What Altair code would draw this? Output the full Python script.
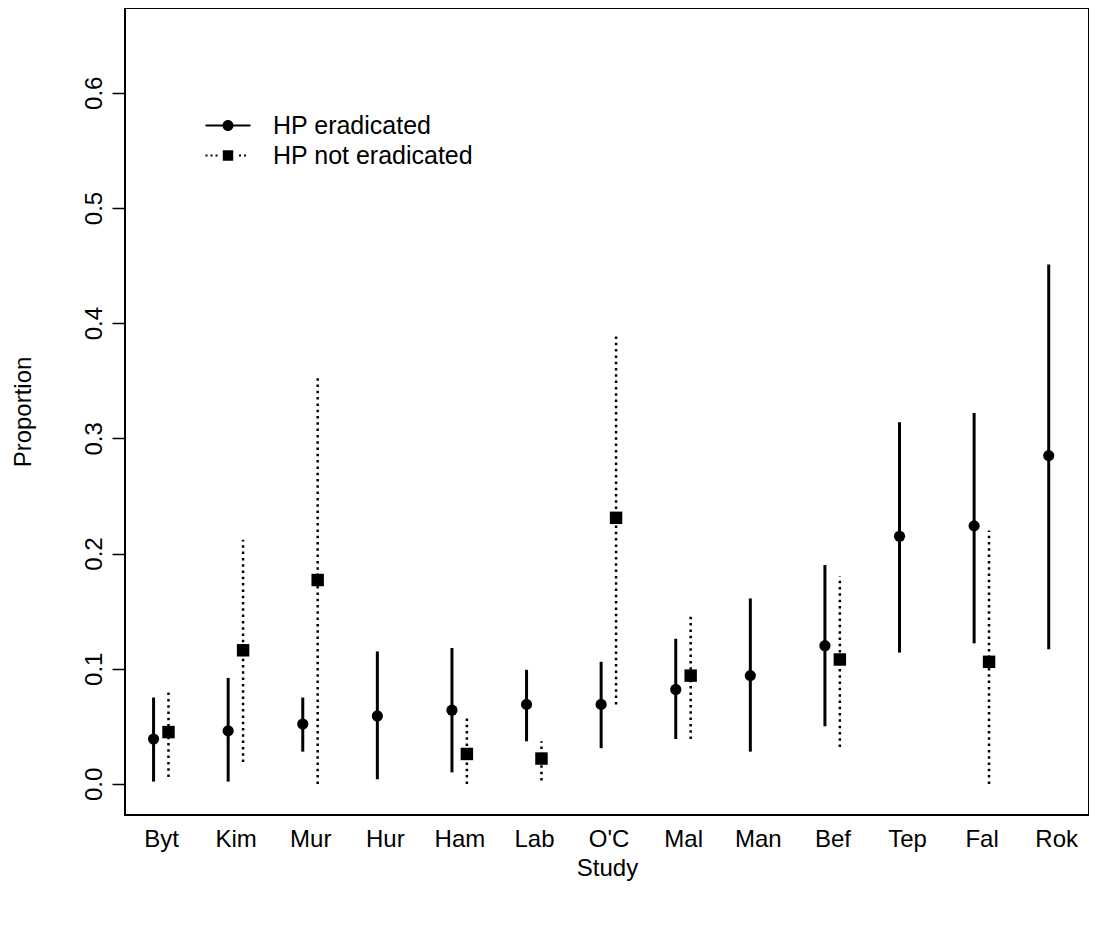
import json
import altair as alt
import pandas as pd

studies = ["Byt", "Kim", "Mur", "Hur", "Ham", "Lab", "O'C", "Mal", "Man", "Bef", "Tep", "Fal", "Rok"]

erad_est = [0.039, 0.046, 0.052, 0.059, 0.064, 0.069, 0.069, 0.082, 0.094, 0.120, 0.215, 0.224, 0.285]
erad_lo = [0.002, 0.002, 0.028, 0.004, 0.010, 0.037, 0.031, 0.039, 0.028, 0.050, 0.114, 0.122, 0.117]
erad_hi = [0.075, 0.092, 0.075, 0.115, 0.118, 0.099, 0.106, 0.126, 0.161, 0.190, 0.314, 0.322, 0.451]

non_est = [0.045, 0.116, 0.177, None, 0.026, 0.022, 0.231, 0.094, None, 0.108, None, 0.106, None]
non_lo = [0.006, 0.019, 0.000, None, 0.000, 0.003, 0.069, 0.039, None, 0.032, None, 0.000, None]
non_hi = [0.081, 0.212, 0.355, None, 0.058, 0.037, 0.390, 0.147, None, 0.180, None, 0.220, None]

series_names = ["HP eradicated", "HP not eradicated"]
y_ticks = [0.0, 0.1, 0.2, 0.3, 0.4, 0.5, 0.6]

FONT = "Liberation Sans"
FS = 24

idx = list(range(1, len(studies) + 1))
df_e = pd.DataFrame({"study": studies, "pos": [i - 0.1 for i in idx],
                     "est": erad_est, "lo": erad_lo, "hi": erad_hi})
df_n = pd.DataFrame({"study": studies, "pos": [i + 0.1 for i in idx],
                     "est": non_est, "lo": non_lo, "hi": non_hi}).dropna()
df_leg = pd.DataFrame({"series": series_names, "px": [None, None], "py": [None, None]})

x_scale = alt.Scale(domain=[0.517, 13.44], nice=False, zero=False)
y_scale = alt.Scale(domain=[-0.027, 0.6736], nice=False, zero=False)

label_expr = json.dumps(studies) + "[round(datum.value) - 1]"

x_axis = alt.Axis(values=idx, labelExpr=label_expr, ticks=False, domain=False, grid=False,
                  labelPadding=12, labelFontSize=FS, labelFont=FONT, labelColor="black",
                  title="Study", titlePadding=5, titleFontSize=FS, titleFont=FONT,
                  titleFontWeight="normal", titleColor="black")
y_axis = alt.Axis(values=y_ticks, format=".1f", labelAngle=270, tickSize=13, tickColor="black",
                  tickWidth=1.5, domain=False, grid=False, labelPadding=6,
                  labelFontSize=FS, labelFont=FONT, labelColor="black",
                  title="Proportion", titlePadding=47, titleFontSize=FS, titleFont=FONT,
                  titleFontWeight="normal", titleColor="black")


def X(field):
    return alt.X(f"{field}:Q", scale=x_scale, axis=x_axis)


def Y(field):
    return alt.Y(f"{field}:Q", scale=y_scale, axis=y_axis)


solid = alt.Chart(df_e).mark_rule(color="black", strokeWidth=3).encode(
    x=X("pos"), y=Y("lo"), y2="hi")
dotted = alt.Chart(df_n).mark_rule(color="black", strokeWidth=2.5, strokeDash=[2.5, 3.8],
                                   strokeCap="butt").encode(
    x=X("pos"), y=Y("lo"), y2="hi")
circles = alt.Chart(df_e).mark_circle(color="black", size=125, opacity=1).encode(
    x=X("pos"), y=Y("est"))
squares = alt.Chart(df_n).mark_square(color="black", size=155, opacity=1).encode(
    x=X("pos"), y=Y("est"))

# legend symbols: line + marker as custom paths (unit = 10 px at symbolSize 400)
path_erad = ("M-2.25,-0.1 H-0.45 V0.1 H-2.25 Z "
             "M0.45,-0.1 H2.25 V0.1 H0.45 Z "
             "M-0.55,0 A0.55,0.55 0 1,1 0.55,0 A0.55,0.55 0 1,1 -0.55,0 Z")
dots = []
for c in [-2.15, -1.65, -1.15, 1.2, 1.7]:
    dots.append(f"M{c-0.1:.2f},-0.1 H{c+0.1:.2f} V0.1 H{c-0.1:.2f} Z")
path_non = " ".join(dots) + " M-0.52,-0.52 H0.52 V0.52 H-0.52 Z"

legend_layer = alt.Chart(df_leg).mark_point(filled=True, color="black", opacity=1).encode(
    x=X("px"), y=Y("py"),
    shape=alt.Shape("series:N", scale=alt.Scale(domain=series_names, range=[path_erad, path_non]),
                    legend=alt.Legend(orient="none", legendX=90.5, legendY=105, title=None,
                                      labelFontSize=25, labelFont=FONT, labelColor="black",
                                      labelOffset=32.5, symbolSize=400, symbolFillColor="black",
                                      symbolStrokeWidth=0, symbolOpacity=1, rowPadding=4,
                                      padding=0, labelLimit=500)))

chart = alt.layer(solid, dotted, circles, squares, legend_layer).properties(
    width=964, height=807,
    autosize=alt.AutoSizeParams(type="none"),
    padding={"left": 117, "top": 0, "right": 0, "bottom": 110},
    background="white",
).configure_view(stroke="black", strokeWidth=2)

chart.save("out.html", embed_options={"renderer": "svg", "actions": False})
